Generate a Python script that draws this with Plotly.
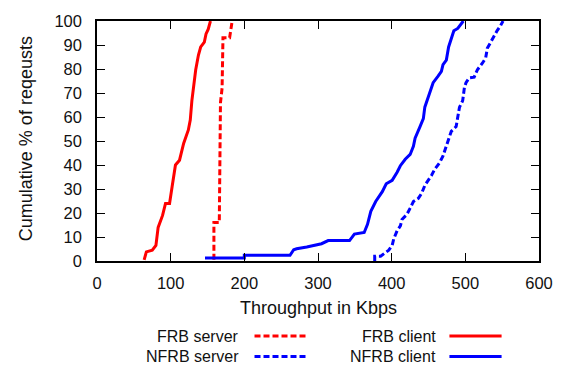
import plotly.graph_objects as go

# ---- data ----
frb_client_x = [64, 67, 75, 80, 83, 89, 93, 98.5, 102, 106.5, 112, 115, 117.6, 124, 126.6,
                128.8, 132, 134, 137.7, 140.8, 145.7, 148, 151, 154]
frb_client_y = [0.5, 3.8, 4.5, 6.5, 14, 19, 24, 24, 31, 40, 42, 46.5, 49, 54.6, 58.7,
                66.8, 75, 79.7, 85.8, 89.2, 91.2, 94.6, 96.6, 100]

frb_server_x = [158.7, 158.7, 166, 166.5, 167.6, 169.8, 171, 180, 181.5, 183.5]
frb_server_y = [0.5, 16, 16, 40, 66, 72, 93, 93, 96, 100]

nfrb_client_x = [146.6, 200, 200, 262, 267, 271, 284.8, 304.8, 313.8, 342.8, 349.4, 362.7,
                 367.2, 371.7, 378.3, 387.3, 392.6, 400.7, 407.4, 411.8, 418.4, 425.1, 429.5,
                 431.8, 438.5, 443, 445, 449.6, 454, 456.3, 463, 467.5, 469.7, 474.2, 477.3,
                 480.9, 484.4, 489.7, 494.2, 497.3]
nfrb_client_y = [1.3, 1.3, 2.4, 2.4, 4.7, 5.1, 5.8, 7.2, 8.5, 8.5, 11.2, 11.9,
                 15.3, 20.7, 24.8, 28.9, 32.2, 33.6, 37, 39.7, 42.4, 44.4, 47.8,
                 51.2, 56, 59.3, 64.1, 68.2, 72.2, 74.3, 77, 79, 81.8, 83.7, 89.2,
                 92.5, 95.9, 96.9, 98.7, 100]

nfrb_server_x = [377, 377, 385, 396, 400.7, 402.8, 407.4, 411.8, 414, 420.7, 425.1, 429.5,
                 436.2, 440.7, 445.2, 449.6, 454, 458.6, 465.2, 469.7, 474.2, 478.6, 480.9,
                 487.5, 489.7, 492, 496.4, 498.7, 500.9, 505.3, 512, 516.4, 523.1, 527.6,
                 529.8, 534.3, 538.8, 543.2, 547.7, 551.2]
nfrb_server_y = [0, 2, 2, 4.5, 6.5, 9.2, 12.6, 14.6, 17.3, 19.4, 22, 24.8,
                 26.1, 28.2, 31.6, 33.6, 35.6, 38.3, 41, 43.8, 47.8, 51.9, 54,
                 56, 59.3, 64, 66.8, 72.2, 74.3, 76.3, 76.6, 79.7, 82.4, 84.6,
                 88.6, 91.3, 94, 96, 98, 100]

x_ticks = [0, 100, 200, 300, 400, 500, 600]
y_ticks = [0, 10, 20, 30, 40, 50, 60, 70, 80, 90, 100]

series = [
    ("FRB server", frb_server_x, frb_server_y, "#ff0000", "6px,3px"),
    ("NFRB server", nfrb_server_x, nfrb_server_y, "#0000ff", "6px,3px"),
    ("FRB client", frb_client_x, frb_client_y, "#ff0000", "solid"),
    ("NFRB client", nfrb_client_x, nfrb_client_y, "#0000ff", "solid"),
]

FONT = "Liberation Sans, Arial, Helvetica, sans-serif"
TICK_SIZE = 16.5
TEXT_SIZE = 18
LEG_SIZE = 16

fig = go.Figure()
for name, xs, ys, col, dash in series:
    fig.add_trace(go.Scatter(x=xs, y=ys, mode="lines", name=name,
                             line=dict(color=col, width=3, dash=dash),
                             showlegend=False))

# plot area in pixels
L, R, T, B = 97, 19, 15, 109
W, H = 565, 370
pw, ph = W - L - R, H - T - B

def px(xp):
    return (xp - L) / pw

def py(yp):
    return (H - B - yp) / ph

annotations = [
    dict(text="Throughput in Kbps", x=px(322), y=py(309), xref="paper", yref="paper",
         showarrow=False, xanchor="center", yanchor="middle",
         font=dict(size=TEXT_SIZE, color="#111", family=FONT)),
    dict(text="Cumulative % of reqeusts", x=px(25), y=py(136), xref="paper", yref="paper",
         showarrow=False, textangle=-90, xanchor="center", yanchor="middle",
         font=dict(size=TEXT_SIZE, color="#111", family=FONT)),
]
shapes = []
legend_pos = [
    ("FRB server", 243, 338, 257, 310, "#ff0000", "dash"),
    ("NFRB server", 243, 359, 257, 310, "#0000ff", "dash"),
    ("FRB client", 443, 338, 455, 508, "#ff0000", "solid"),
    ("NFRB client", 443, 359, 455, 508, "#0000ff", "solid"),
]
for name, tx, ty, x0, x1, col, dash in legend_pos:
    annotations.append(dict(text=name, x=px(tx), y=py(ty), xref="paper", yref="paper",
                            showarrow=False, xanchor="right", yanchor="middle",
                            font=dict(size=LEG_SIZE, color="#111", family=FONT)))
    shapes.append(dict(type="line", xref="paper", yref="paper", x0=px(x0), x1=px(x1),
                       y0=py(ty), y1=py(ty),
                       line=dict(color=col, width=3, dash="6px,3px" if dash == "dash" else "solid")))

axis_common = dict(showgrid=False, zeroline=False, showline=True, linecolor="black", linewidth=1.5,
                   mirror="ticks", ticks="inside", ticklen=8, tickwidth=1.2, tickcolor="black",
                   tickfont=dict(size=TICK_SIZE, color="#111", family=FONT))

fig.update_layout(
    width=W, height=H,
    margin=dict(l=L, r=R, t=T, b=B),
    paper_bgcolor="white", plot_bgcolor="white",
    xaxis=dict(range=[0, 600], tickvals=x_ticks, ticklabelstandoff=6, **axis_common),
    yaxis=dict(range=[0, 100], tickvals=y_ticks, ticklabelstandoff=10, **axis_common),
    annotations=annotations, shapes=shapes,
    showlegend=False,
)

fig.write_html("out.html")
